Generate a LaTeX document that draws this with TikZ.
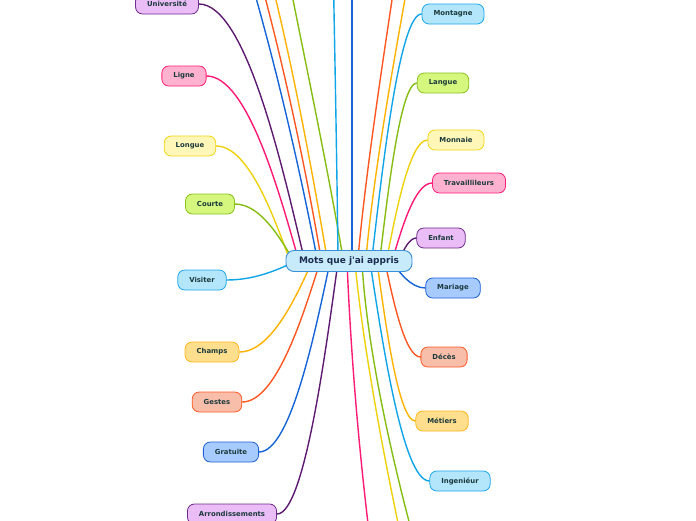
\documentclass[tikz,border=0pt]{standalone}
\usepackage{fontspec}
\setmainfont{DejaVu Sans}[Ligatures=TeXOff]
\usetikzlibrary{backgrounds,calc}
\definecolor{txt}{HTML}{1B3A3C}
\definecolor{cenT}{HTML}{1B2B4F}
\definecolor{cenF}{HTML}{C8EBFB}
\definecolor{cenD}{HTML}{3A8FD6}
\definecolor{purpF}{HTML}{EBBDF7}\definecolor{purpD}{HTML}{6C2C8C}\definecolor{purpL}{HTML}{5D1A70}
\definecolor{pinkF}{HTML}{FFB2D0}\definecolor{pinkD}{HTML}{FF1F7A}\definecolor{pinkL}{HTML}{FF1A75}
\definecolor{yellF}{HTML}{FFF7B8}\definecolor{yellD}{HTML}{F1D61C}\definecolor{yellL}{HTML}{F0D20A}
\definecolor{grnF}{HTML}{D5F77E}\definecolor{grnD}{HTML}{8AC21E}\definecolor{grnL}{HTML}{86BD12}
\definecolor{lbluF}{HTML}{B3E5FB}\definecolor{lbluD}{HTML}{1CA8EC}\definecolor{lbluL}{HTML}{10A5E8}
\definecolor{oranF}{HTML}{FFDE8E}\definecolor{oranD}{HTML}{FFB81E}\definecolor{oranL}{HTML}{FFB300}
\definecolor{salmF}{HTML}{F9BEAA}\definecolor{salmD}{HTML}{FF5A26}\definecolor{salmL}{HTML}{FF5722}
\definecolor{bluF}{HTML}{A8CBFF}\definecolor{bluD}{HTML}{1F61D5}\definecolor{bluL}{HTML}{1565D8}
\newcommand\mmbranch[3]{\draw[br,#1] let \p1=(#2), \p2=(#3) in (\p1) .. controls ({\x1+0.2*(\x2-\x1)},{\y1+0.35*(\y2-\y1)}) and ({\x2-0.45*(\x2-\x1)},\y2) .. (\p2);}
\begin{document}
\begin{tikzpicture}[x=1pt,y=-1pt,
  child/.style={rounded corners=7pt, minimum height=20pt, inner xsep=11.5pt, inner ysep=0pt, line width=0.8pt, text=txt, font=\fontsize{6.9}{8}\selectfont\bfseries},
  cen/.style={rounded corners=8pt, minimum height=21pt, minimum width=126pt, inner xsep=4pt, inner ysep=0pt, line width=0.9pt, fill=cenF, draw=cenD, text=cenT, font=\fontsize{9}{10}\selectfont\bfseries},
  br/.style={line width=1.4pt, line cap=round},
  nPurp/.style={child, fill=purpF, draw=purpD},
  nPink/.style={child, fill=pinkF, draw=pinkD},
  nYell/.style={child, fill=yellF, draw=yellD},
  nGrn/.style={child, fill=grnF, draw=grnD},
  nLblu/.style={child, fill=lbluF, draw=lbluD},
  nOran/.style={child, fill=oranF, draw=oranD},
  nSalm/.style={child, fill=salmF, draw=salmD},
  nBlu/.style={child, fill=bluF, draw=bluD}]
\useasboundingbox (0,0) rectangle (696,520);
% centre
\node[cen] (c) at (349,261) {Mots que j\textquotesingle ai appris};
% left children
\node[nPurp] (uni) at (167,4) {Université};
\node[nPink] (lig) at (184,76) {Ligne};
\node[nYell] (lon) at (190,146) {Longue};
\node[nGrn] (cou) at (210,204) {Courte};
\node[nLblu] (vis) at (202,280) {Visiter};
\node[nOran] (cha) at (212,352) {Champs};
\node[nSalm] (ges) at (217,402) {Gestes};
\node[nBlu] (gra) at (231,452) {Gratuite};
\node[nPurp] (arr) at (232,514) {Arrondissements};
% right children
\node[nLblu] (mon) at (453,14) {Montagne};
\node[nGrn] (lan) at (443,83) {Langue};
\node[nYell] (mnn) at (456,140) {Monnaie};
\node[nPink] (tra) at (469,183) {Travaillileurs};
\node[nPurp] (enf) at (441,238) {Enfant};
\node[nBlu] (mar) at (453,288) {Mariage};
\node[nSalm] (dec) at (444,357) {Décès};
\node[nOran] (met) at (442,421) {Métiers};
\node[nLblu] (ing) at (460,481) {Ingeniéur};
% start points inside the centre node
\coordinate (sUni) at (304,258);
\coordinate (sLig) at (298,258);
\coordinate (sLon) at (289,258);
\coordinate (sCou) at (292,258);
\coordinate (sVis) at (292,263);
\coordinate (sCha) at (312,262);
\coordinate (sGes) at (320,262);
\coordinate (sGra) at (330,262);
\coordinate (sArr) at (338,262);
\coordinate (sMon) at (372,258);
\coordinate (sLan) at (380,258);
\coordinate (sMnn) at (387,258);
\coordinate (sTra) at (393,258);
\coordinate (sEnf) at (400,258);
\coordinate (sMar) at (392,262);
\coordinate (sDec) at (385,262);
\coordinate (sMet) at (377,262);
\coordinate (sIng) at (370,262);
\coordinate (sT1) at (317,258);
\coordinate (sT2) at (321,258);
\coordinate (sT3) at (327,258);
\coordinate (sT4) at (343,258);
\coordinate (sT5) at (338,258);
\coordinate (sT6) at (352,258);
\coordinate (sT7) at (358,258);
\coordinate (sT8) at (366,258);
\coordinate (sB1) at (347,262);
\coordinate (sB2) at (355,262);
\coordinate (sB3) at (362,262);
% free ends outside the frame
\coordinate (oT1) at (245,-40);
\coordinate (oT2) at (255,-40);
\coordinate (oT3) at (266,-40);
\coordinate (oT4) at (285,-40);
\coordinate (oT5) at (333,-40);
\coordinate (oT6) at (352,-40);
\coordinate (oT7) at (398,-40);
\coordinate (oT8) at (412,-40);
\coordinate (oB1) at (375,580);
\coordinate (oB2) at (415,600);
\coordinate (oB3) at (428,590);
\begin{scope}[on background layer]
\fill[white] (0,0) rectangle (696,520);
\mmbranch{purpL}{sUni}{uni.east}
\mmbranch{pinkL}{sLig}{lig.east}
\mmbranch{yellL}{sLon}{lon.east}
\mmbranch{grnL}{sCou}{cou.east}
\mmbranch{lbluL}{sVis}{vis.east}
\mmbranch{oranL}{sCha}{cha.east}
\mmbranch{salmL}{sGes}{ges.east}
\mmbranch{bluL}{sGra}{gra.east}
\mmbranch{purpL}{sArr}{arr.east}
\mmbranch{lbluL}{sMon}{mon.west}
\mmbranch{grnL}{sLan}{lan.west}
\mmbranch{yellL}{sMnn}{mnn.west}
\mmbranch{pinkL}{sTra}{tra.west}
\mmbranch{purpL}{sEnf}{enf.west}
\mmbranch{bluL}{sMar}{mar.west}
\mmbranch{salmL}{sDec}{dec.west}
\mmbranch{oranL}{sMet}{met.west}
\mmbranch{lbluL}{sIng}{ing.west}
\draw[br,bluL] (sT1) .. controls (300,170) and (275,60) .. (oT1);
\draw[br,salmL] (sT2) .. controls (306,170) and (283,60) .. (oT2);
\draw[br,oranL] (sT3) .. controls (312,170) and (292,60) .. (oT3);
\draw[br,grnL] (sT4) .. controls (328,170) and (305,60) .. (oT4);
\draw[br,lbluL] (sT5) .. controls (337,170) and (335,60) .. (oT5);
\draw[br,bluL] (sT6) -- (oT6);
\draw[br,salmL] (sT7) .. controls (366,170) and (383,60) .. (oT7);
\draw[br,oranL] (sT8) .. controls (374,170) and (394,60) .. (oT8);
\draw[br,pinkL] (sB1) .. controls (352,380) and (362,480) .. (oB1);
\draw[br,yellL] (sB2) .. controls (362,340) and (385,470) .. (oB2);
\draw[br,grnL] (sB3) .. controls (366,340) and (390,460) .. (oB3);
\end{scope}
\end{tikzpicture}
\end{document}
